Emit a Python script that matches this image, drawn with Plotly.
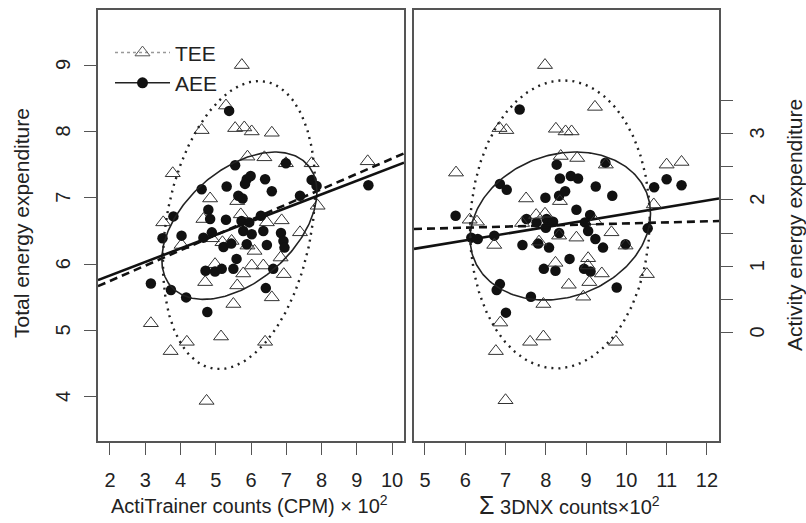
import numpy as np
import plotly.graph_objects as go

# ---------------- data ----------------
# Left panel: ActiTrainer counts (CPM x 10^2)
left_tee_x = [5.74, 5.29, 4.60, 5.55, 5.81, 6.02, 6.59, 3.78, 5.90, 6.38, 7.72, 9.31, 6.99,
              4.84, 5.61, 7.89, 3.51, 4.65, 5.71, 6.45, 6.87, 7.39, 4.03, 4.89, 5.45, 5.19,
              5.90, 4.98, 6.02, 6.35, 6.84, 6.93, 5.78, 4.70, 5.61, 5.50, 6.59, 3.16, 5.15,
              4.18, 3.72, 6.40, 4.74, 6.10]
left_tee = [9.00, 8.39, 8.02, 8.05, 8.06, 8.00, 7.98, 7.37, 7.62, 7.61, 7.52, 7.55, 7.52,
            6.99, 6.95, 6.88, 6.63, 6.68, 6.75, 6.63, 6.66, 6.48, 6.29, 6.39, 6.35, 6.33,
            6.28, 6.00, 5.98, 5.98, 6.10, 5.85, 5.86, 5.73, 5.68, 5.40, 5.50, 5.11, 4.91,
            4.83, 4.69, 4.83, 3.94, 6.20]
left_aee_x = [5.38, 5.55, 6.99, 7.72, 7.86, 9.33, 4.60, 5.31, 5.88, 5.99, 5.83, 6.40, 6.59,
              5.64, 5.76, 7.39, 3.80, 4.79, 4.84, 5.29, 5.73, 5.95, 6.28, 5.78, 6.02, 6.35,
              6.85, 6.92, 6.95, 4.03, 3.49, 4.65, 4.89, 5.22, 5.44, 6.45, 5.88, 5.59, 3.16,
              3.73, 4.16, 4.76, 4.71, 4.98, 5.17, 5.50, 6.63, 6.42]
left_aee = [3.34, 2.52, 2.55, 2.30, 2.21, 2.22, 2.16, 2.20, 2.31, 2.36, 2.24, 2.31, 2.13,
            2.06, 2.02, 2.06, 1.75, 1.85, 1.71, 1.70, 1.68, 1.66, 1.76, 1.53, 1.48, 1.53,
            1.50, 1.38, 1.28, 1.46, 1.42, 1.43, 1.51, 1.29, 1.34, 1.32, 1.33, 1.11, 0.74,
            0.64, 0.53, 0.31, 0.93, 0.92, 0.96, 0.96, 0.96, 0.67]

# Right panel: sum of 3DNX counts (x 10^2)
right_tee_x = [7.98, 9.22, 6.85, 7.02, 8.25, 8.49, 8.64, 5.77, 8.37, 8.78, 9.49, 11.00, 11.37,
               7.51, 8.35, 10.68, 6.11, 6.29, 7.41, 7.76, 7.98, 9.22, 9.63, 6.72, 7.83, 8.33,
               8.76, 9.98, 9.05, 8.24, 9.04, 9.39, 9.08, 8.57, 8.93, 7.94, 10.51, 6.87, 7.94,
               7.61, 6.76, 9.74, 7.00]
right_tee = [9.00, 8.37, 8.05, 8.02, 8.04, 8.00, 8.00, 7.38, 7.63, 7.60, 7.50, 7.50, 7.54,
             6.99, 6.95, 6.90, 6.67, 6.64, 6.62, 6.74, 6.76, 6.65, 6.48, 6.29, 6.34, 6.43,
             6.40, 6.28, 6.09, 6.02, 5.98, 5.86, 5.73, 5.69, 5.51, 5.40, 5.85, 5.12, 4.91,
             4.83, 4.69, 4.83, 3.95]
right_aee_x = [7.35, 8.27, 9.48, 8.35, 8.62, 8.80, 6.86, 7.03, 9.24, 9.65, 10.69, 11.00, 11.37,
               7.99, 8.33, 8.48, 5.76, 8.76, 9.10, 7.52, 7.77, 8.02, 8.18, 8.00, 8.33, 8.97,
               9.05, 9.23, 9.42, 9.98, 10.53, 6.15, 6.31, 6.72, 7.42, 7.81, 8.08, 8.59, 7.95,
               8.24, 8.95, 9.11, 6.86, 6.78, 7.63, 7.01, 9.76]
right_aee = [3.36, 2.53, 2.56, 2.32, 2.36, 2.32, 2.24, 2.15, 2.20, 2.06, 2.19, 2.31, 2.22,
             2.03, 2.06, 2.13, 1.76, 1.85, 1.77, 1.71, 1.66, 1.71, 1.67, 1.58, 1.50, 1.66,
             1.53, 1.41, 1.28, 1.33, 1.57, 1.43, 1.41, 1.46, 1.32, 1.34, 1.28, 1.11, 0.96,
             0.93, 0.96, 0.92, 0.73, 0.64, 0.54, 0.30, 0.68]

# regression lines (intercept, slope)
left_tee_fit = (5.287, 0.2304)
left_aee_fit = (0.451, 0.2040)
right_tee_fit = (6.455, 0.0159)
right_aee_fit = (0.7855, 0.1004)

# data ellipses (centre x, centre y, half-width x, half-height y, correlation)
left_tee_ell = (5.66, 6.59, 2.16, 2.17, 0.26)
left_aee_ell = (5.67, 1.61, 2.20, 1.11, 0.46)
right_tee_ell = (8.35, 6.60, 2.23, 2.17, 0.04)
right_aee_ell = (8.36, 1.605, 2.24, 1.115, 0.17)

# axes
left_x_range = [1.66, 10.34]
right_x_range = [4.727, 12.3]
tee_range = [3.336, 9.83]
aee_offset = 4.97
aee_range = [tee_range[0] - aee_offset, tee_range[1] - aee_offset]
left_x_ticks = [2, 3, 4, 5, 6, 7, 8, 9, 10]
right_x_ticks = [5, 6, 7, 8, 9, 10, 11, 12]
tee_ticks = [4, 5, 6, 7, 8, 9]
aee_ticks = [0, 1, 2, 3]
aee_minor_ticks = [0.5, 1.5, 2.5, 3.5]

# ---------------- figure ----------------
FONT = "Liberation Sans, Arial, Helvetica, sans-serif"
TXT = "#222222"
FRAME = "#555555"

W, H = 806, 523
ML, MT = 98, 8
MR, MB = 87, 82
PW = W - ML - MR
PH = H - MT - MB
left_dom = [0, (404 - ML) / PW]
right_dom = [(414 - ML) / PW, 1]


def ellipse(p):
    cx, cy, ax, ay, r = p
    t = np.linspace(0, 2 * np.pi, 241)
    x = cx + ax * np.cos(t)
    y = cy + ay * (r * np.cos(t) + np.sqrt(1 - r * r) * np.sin(t))
    return x, y


def fitline(p, xr):
    b0, b1 = p
    x = np.array(xr)
    return x, b0 + b1 * x


fig = go.Figure()

tri = dict(symbol="triangle-up-open", size=13, color="#333333", line=dict(width=1, color="#333333"))
dot = dict(symbol="circle", size=10.5, color="#111111", line=dict(width=0))
dotted = dict(color="#222", width=2.4, dash="2px,5px")
solid_thin = dict(color="#222", width=1.6)
dashed_fit = dict(color="#111", width=2.6, dash="8px,5px")
solid_fit = dict(color="#111", width=2.6)


def add(x, y, xa, ya, **kw):
    fig.add_trace(go.Scatter(x=x, y=y, xaxis=xa, yaxis=ya, showlegend=False,
                             hoverinfo="skip", **kw))


# left panel
add(left_tee_x, left_tee, "x", "y", mode="markers", marker=tri)
add(left_aee_x, left_aee, "x", "y3", mode="markers", marker=dot)
add(*ellipse(left_tee_ell), "x", "y", mode="lines", line=dotted)
add(*ellipse(left_aee_ell), "x", "y3", mode="lines", line=solid_thin)
add(*fitline(left_tee_fit, left_x_range), "x", "y", mode="lines", line=dashed_fit)
add(*fitline(left_aee_fit, left_x_range), "x", "y3", mode="lines", line=solid_fit)

# right panel
add(right_tee_x, right_tee, "x2", "y4", mode="markers", marker=tri)
add(right_aee_x, right_aee, "x2", "y2", mode="markers", marker=dot)
add(*ellipse(right_tee_ell), "x2", "y4", mode="lines", line=dotted)
add(*ellipse(right_aee_ell), "x2", "y2", mode="lines", line=solid_thin)
add(*fitline(right_tee_fit, right_x_range), "x2", "y4", mode="lines", line=dashed_fit)
add(*fitline(right_aee_fit, right_x_range), "x2", "y2", mode="lines", line=solid_fit)

# legend entries
fig.add_trace(go.Scatter(x=[None], y=[None], mode="lines+markers", name="TEE",
                         line=dict(color="#999999", width=1.5, dash="dot"),
                         marker=dict(symbol="triangle-up-open", size=13, color="#555555",
                                     line=dict(width=1, color="#555555")),
                         xaxis="x", yaxis="y"))
fig.add_trace(go.Scatter(x=[None], y=[None], mode="lines+markers", name="AEE",
                         line=dict(color="#222222", width=1.5),
                         marker=dict(symbol="circle", size=11, color="#111111"),
                         xaxis="x", yaxis="y"))

tickfont = dict(family=FONT, size=20, color=TXT)
common = dict(showline=True, linecolor=FRAME, linewidth=1.5, mirror=True, ticks="outside",
              ticklen=12, tickwidth=1.3, tickcolor=FRAME, showgrid=False, zeroline=False,
              tickfont=tickfont, fixedrange=True)

fig.update_layout(
    width=W, height=H,
    margin=dict(l=ML, r=MR, t=MT, b=MB),
    paper_bgcolor="white", plot_bgcolor="white",
    font=dict(family=FONT, color=TXT, size=20),
    showlegend=True,
    legend=dict(x=(110 - ML) / PW, y=0.948, xanchor="left", yanchor="top",
                bgcolor="rgba(0,0,0,0)", font=dict(family=FONT, size=21, color=TXT),
                tracegroupgap=0, itemwidth=55),
    xaxis=dict(domain=left_dom, range=left_x_range, tickvals=left_x_ticks, anchor="y",
               ticklabelstandoff=8, **common),
    xaxis2=dict(domain=right_dom, range=right_x_range, tickvals=right_x_ticks, anchor="y2",
                ticklabelstandoff=8, **common),
    yaxis=dict(domain=[0, 1], range=tee_range, tickvals=tee_ticks, anchor="x", side="left",
               showticklabels=False, **common),
    yaxis2=dict(domain=[0, 1], range=aee_range, tickvals=aee_ticks, anchor="x2", side="right",
                showticklabels=False,
                minor=dict(tickvals=aee_minor_ticks, ticks="outside", ticklen=12, tickwidth=1.3,
                           tickcolor=FRAME, showgrid=False),
                **common),
    yaxis3=dict(range=aee_range, overlaying="y", anchor="x", visible=False, fixedrange=True),
    yaxis4=dict(range=tee_range, overlaying="y2", anchor="x2", visible=False, fixedrange=True),
)


# pixel -> paper helpers (pixels of the reference picture)
def px2paper_x(px):
    return (px - ML) / PW


def px2paper_y(py):
    return 1 - (py - MT) / PH


# y tick labels, written parallel to the axis as in the reference
for v in tee_ticks:
    fig.add_annotation(text=str(v), x=px2paper_x(63), y=v, xref="paper", yref="y",
                       xanchor="center", yanchor="middle", showarrow=False, textangle=-90,
                       font=tickfont)
for v in aee_ticks:
    fig.add_annotation(text=str(v), x=px2paper_x(757), y=v, xref="paper", yref="y2",
                       xanchor="center", yanchor="middle", showarrow=False, textangle=-90,
                       font=tickfont)

titles = [
    ("ActiTrainer counts (CPM) × 10<sup>2</sup>", 249, 505, 0, 20),
    ("<span style='font-size:25px'>Σ</span> 3DNX counts×10<sup>2</sup>", 569, 505, 0, 20),
    ("Total energy expenditure", 21, 222, -90, 21),
    ("Activity energy expenditure", 794, 224, -90, 21),
]
for text, px, py, ang, fs in titles:
    fig.add_annotation(text=text, x=px2paper_x(px), y=px2paper_y(py), xref="paper", yref="paper",
                       xanchor="center", yanchor="middle", showarrow=False, textangle=ang,
                       font=dict(family=FONT, size=fs, color=TXT))

# the page body gets no default margin so the 806x523 figure fills the window exactly
fig.write_html("out.html", config={"displayModeBar": False},
               post_script="document.body.style.margin='0';")
